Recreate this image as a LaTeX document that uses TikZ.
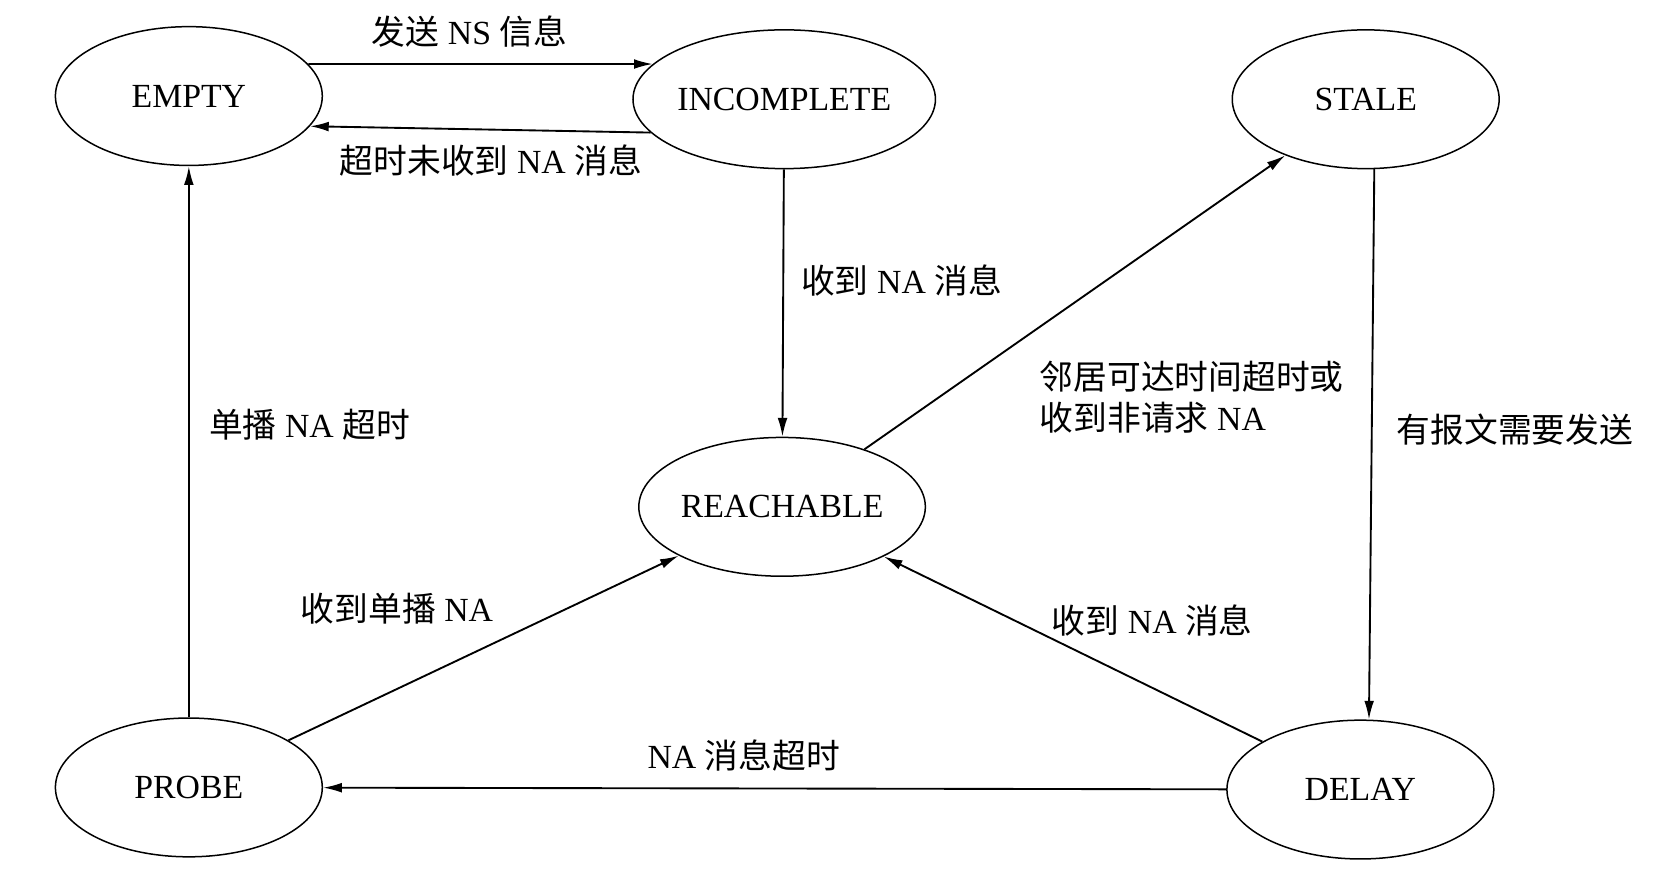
\documentclass[tikz,border=0pt]{standalone}
\usepackage{fontspec}
\setmainfont{Liberation Serif}
\newfontfamily\cjk{Noto Sans CJK SC}
\usetikzlibrary{shapes.geometric,arrows.meta}
\begin{document}
\begin{tikzpicture}[x=0.01cm,y=-0.01cm,
  st/.style={draw,ellipse,minimum width=2.5cm,minimum height=1.3cm,inner sep=0pt,font=\fontsize{9}{10}\selectfont},
  arr/.style={-{Latex[length=5pt,width=2.6pt]},line width=0.5pt},
  lbl/.style={font=\fontsize{9}{11}\selectfont,align=left}]
\useasboundingbox (0,0) rectangle (1568,826);
\node[st] (empty) at (177,90) {EMPTY};
\node[st] (inc) at (735,93) {INCOMPLETE};
\node[st] (stale) at (1280,93) {STALE};
\node[st] (reach) at (733,475) {REACHABLE};
\node[st] (probe) at (177,738) {PROBE};
\node[st] (delay) at (1275,740) {DELAY};
\draw[arr] (empty.15) -- (inc.165);
\node[lbl] (l1) at (440,30) {{\cjk 发送} NS {\cjk 信息}};
\draw[arr] (inc.-166) -- (empty.-14);
\node[lbl] (l2) at (460,150) {{\cjk 超时未收到} NA {\cjk 消息}};
\draw[arr] (inc) -- (reach);
\node[lbl] (l3) at (845,263) {{\cjk 收到} NA {\cjk 消息}};
\draw[arr] (reach) -- (stale);
\node[lbl] (l4) at (1117,372) {{\cjk 邻居可达时间超时或}\\{\cjk 收到非请求} NA};
\draw[arr] (stale.-83) -- (delay.83);
\node[lbl] (l5) at (1420,403) {{\cjk 有报文需要发送}};
\draw[arr] (delay) -- (reach);
\node[lbl] (l6) at (1080,582) {{\cjk 收到} NA {\cjk 消息}};
\draw[arr] (delay) -- (probe);
\node[lbl] (l7) at (697,708) {NA {\cjk 消息超时}};
\draw[arr] (probe) -- (reach);
\node[lbl] (l8) at (372,570) {{\cjk 收到单播} NA};
\draw[arr] (probe) -- (empty);
\node[lbl] (l9) at (290,398) {{\cjk 单播} NA {\cjk 超时}};
\end{tikzpicture}
\end{document}
